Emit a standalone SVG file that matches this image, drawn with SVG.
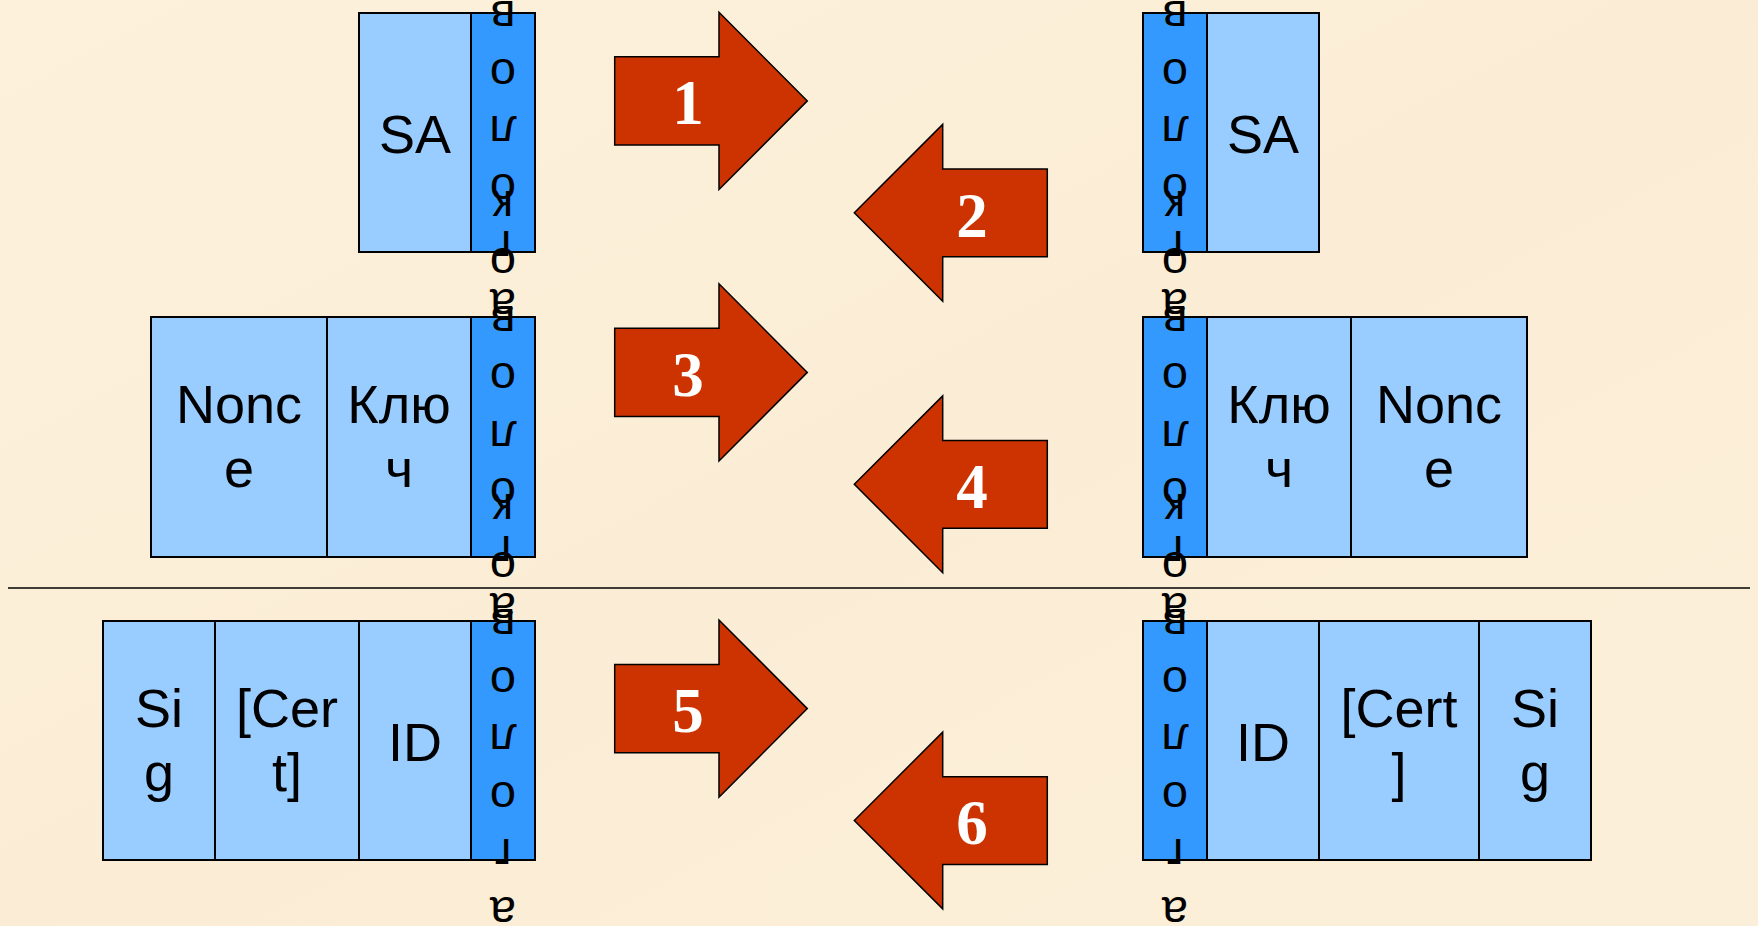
<svg xmlns="http://www.w3.org/2000/svg" width="1758" height="926" viewBox="0 0 1758 926">
<style>
.cell{fill:#99CCFF;stroke:#000;stroke-width:2}
.strip{fill:#3399FF;stroke:#000;stroke-width:2}
.lbl{font-family:"Liberation Sans",Arial,sans-serif;font-size:54px;text-anchor:middle;fill:#000}
.vt{font-family:"Liberation Sans",Arial,sans-serif;font-size:47px;text-anchor:middle;fill:#000}
.arr{fill:#CC3300;stroke:#000;stroke-width:1.5;stroke-linejoin:miter}
.num{font-family:"Liberation Serif","Times New Roman",serif;font-weight:bold;font-size:63px;fill:#fff;text-anchor:middle}
.sep{stroke:#000;stroke-width:1.5}
</style>
<defs>
<linearGradient id="bg" x1="0" y1="0" x2="1" y2="1">
<stop offset="0" stop-color="#FDF1DC"/>
<stop offset="0.5" stop-color="#FBEDD5"/>
<stop offset="1" stop-color="#FCEFD9"/>
</linearGradient>
<path id="arrR" d="M614.7,56.7 H719 V12.3 L807.3,100.9 L719,189.5 V145 H614.7 Z"/>
<path id="arrL" d="M854.3,212.8 L942.7,124.4 V169 H1047.3 V256.7 H942.7 V301.2 Z"/>
<text id="vtext" class="vt"><tspan x="0" y="-217.5">З</tspan><tspan x="0" dy="57.5">а</tspan><tspan x="0" dy="57.5">г</tspan><tspan x="0" dy="57.5">о</tspan><tspan x="0" dy="57.5">л</tspan><tspan x="0" dy="57.5">о</tspan><tspan x="0" dy="57.5">в</tspan><tspan x="0" dy="57.5">о</tspan><tspan x="0" dy="57.5">к</tspan></text>
</defs>
<rect x="0" y="0" width="1758" height="926" fill="url(#bg)"/>
<line class="sep" x1="8" y1="588" x2="1750" y2="588"/>

<g id="r1-left">
<rect class="cell" x="359" y="13" width="112" height="239"/>
<rect class="strip" x="471" y="13" width="64" height="239"/>
<text class="lbl" x="415" y="152.5">SA</text>
<text class="vt" transform="translate(503,128.5) rotate(180)"><tspan x="0" y="-217.5">З</tspan><tspan x="0" dy="57.5">а</tspan><tspan x="0" dy="57.5">г</tspan><tspan x="0" dy="57.5">о</tspan><tspan x="0" dy="57.5">л</tspan><tspan x="0" dy="57.5">о</tspan><tspan x="0" dy="57.5">в</tspan><tspan x="0" dy="57.5">о</tspan><tspan x="0" dy="57.5">к</tspan></text>
</g>
<g id="r1-right">
<rect class="strip" x="1143" y="13" width="64" height="239"/>
<rect class="cell" x="1207" y="13" width="112" height="239"/>
<text class="lbl" x="1263" y="152.5">SA</text>
<text class="vt" transform="translate(1175,128.5) rotate(180)"><tspan x="0" y="-217.5">З</tspan><tspan x="0" dy="57.5">а</tspan><tspan x="0" dy="57.5">г</tspan><tspan x="0" dy="57.5">о</tspan><tspan x="0" dy="57.5">л</tspan><tspan x="0" dy="57.5">о</tspan><tspan x="0" dy="57.5">в</tspan><tspan x="0" dy="57.5">о</tspan><tspan x="0" dy="57.5">к</tspan></text>
</g>

<g id="r2-left">
<rect class="cell" x="151" y="317" width="176" height="240"/>
<rect class="cell" x="327" y="317" width="144" height="240"/>
<rect class="strip" x="471" y="317" width="64" height="240"/>
<text class="lbl" x="239" y="423.3">Nonc<tspan x="239" dy="64">e</tspan></text>
<text class="lbl" x="399" y="423.3">Клю<tspan x="399" dy="64">ч</tspan></text>
<text class="vt" transform="translate(503,433) rotate(180)"><tspan x="0" y="-217.5">З</tspan><tspan x="0" dy="57.5">а</tspan><tspan x="0" dy="57.5">г</tspan><tspan x="0" dy="57.5">о</tspan><tspan x="0" dy="57.5">л</tspan><tspan x="0" dy="57.5">о</tspan><tspan x="0" dy="57.5">в</tspan><tspan x="0" dy="57.5">о</tspan><tspan x="0" dy="57.5">к</tspan></text>
</g>
<g id="r2-right">
<rect class="strip" x="1143" y="317" width="64" height="240"/>
<rect class="cell" x="1207" y="317" width="144" height="240"/>
<rect class="cell" x="1351" y="317" width="176" height="240"/>
<text class="lbl" x="1279" y="423.3">Клю<tspan x="1279" dy="64">ч</tspan></text>
<text class="lbl" x="1439" y="423.3">Nonc<tspan x="1439" dy="64">e</tspan></text>
<text class="vt" transform="translate(1175,433) rotate(180)"><tspan x="0" y="-217.5">З</tspan><tspan x="0" dy="57.5">а</tspan><tspan x="0" dy="57.5">г</tspan><tspan x="0" dy="57.5">о</tspan><tspan x="0" dy="57.5">л</tspan><tspan x="0" dy="57.5">о</tspan><tspan x="0" dy="57.5">в</tspan><tspan x="0" dy="57.5">о</tspan><tspan x="0" dy="57.5">к</tspan></text>
</g>

<g id="r3-left">
<rect class="cell" x="103" y="621" width="112" height="239"/>
<rect class="cell" x="215" y="621" width="144" height="239"/>
<rect class="cell" x="359" y="621" width="112" height="239"/>
<rect class="strip" x="471" y="621" width="64" height="239"/>
<text class="lbl" x="159" y="726.8">Si<tspan x="159" dy="64">g</tspan></text>
<text class="lbl" x="287" y="726.8">[Cer<tspan x="287" dy="64">t]</tspan></text>
<text class="lbl" x="415" y="760.5">ID</text>
<text class="vt" transform="translate(503,736.5) rotate(180)"><tspan x="0" y="-217.5">З</tspan><tspan x="0" dy="57.5">а</tspan><tspan x="0" dy="57.5">г</tspan><tspan x="0" dy="57.5">о</tspan><tspan x="0" dy="57.5">л</tspan><tspan x="0" dy="57.5">о</tspan><tspan x="0" dy="57.5">в</tspan><tspan x="0" dy="57.5">о</tspan><tspan x="0" dy="57.5">к</tspan></text>
</g>
<g id="r3-right">
<rect class="strip" x="1143" y="621" width="64" height="239"/>
<rect class="cell" x="1207" y="621" width="112" height="239"/>
<rect class="cell" x="1319" y="621" width="160" height="239"/>
<rect class="cell" x="1479" y="621" width="112" height="239"/>
<text class="lbl" x="1263" y="760.5">ID</text>
<text class="lbl" x="1399" y="726.8">[Cert<tspan x="1399" dy="64">]</tspan></text>
<text class="lbl" x="1535" y="726.8">Si<tspan x="1535" dy="64">g</tspan></text>
<text class="vt" transform="translate(1175,736.5) rotate(180)"><tspan x="0" y="-217.5">З</tspan><tspan x="0" dy="57.5">а</tspan><tspan x="0" dy="57.5">г</tspan><tspan x="0" dy="57.5">о</tspan><tspan x="0" dy="57.5">л</tspan><tspan x="0" dy="57.5">о</tspan><tspan x="0" dy="57.5">в</tspan><tspan x="0" dy="57.5">о</tspan><tspan x="0" dy="57.5">к</tspan></text>
</g>

<g id="connectors">
<g id="arrow-1"><use href="#arrR" class="arr"/><text class="num" x="688" y="124">1</text></g>
<g id="arrow-2"><use href="#arrL" class="arr"/><text class="num" x="972" y="236.7">2</text></g>
<g id="arrow-3" transform="translate(0,271.5)"><use href="#arrR" class="arr"/><text class="num" x="688" y="124">3</text></g>
<g id="arrow-4" transform="translate(0,271.5)"><use href="#arrL" class="arr"/><text class="num" x="972" y="236.7">4</text></g>
<g id="arrow-5" transform="translate(0,607.7)"><use href="#arrR" class="arr"/><text class="num" x="688" y="124">5</text></g>
<g id="arrow-6" transform="translate(0,607.7)"><use href="#arrL" class="arr"/><text class="num" x="972" y="236.7">6</text></g>
</g>
</svg>
